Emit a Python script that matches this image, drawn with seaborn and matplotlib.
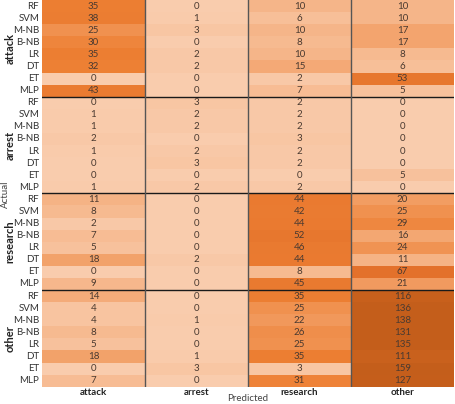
import numpy as np
import pandas as pd
import seaborn as sns
import matplotlib
matplotlib.use("Agg")
import matplotlib.pyplot as plt
from matplotlib.colors import LinearSegmentedColormap, Normalize

groups = ["attack", "arrest", "research", "other"]
models = ["RF", "SVM", "M-NB", "B-NB", "LR", "DT", "ET", "MLP"]
predicted = ["attack", "arrest", "research", "other"]

attack_vals = [[35, 0, 10, 10], [38, 1, 6, 10], [25, 3, 10, 17], [30, 0, 8, 17],
               [35, 2, 10, 8], [32, 2, 15, 6], [0, 0, 2, 53], [43, 0, 7, 5]]
arrest_vals = [[0, 3, 2, 0], [1, 2, 2, 0], [1, 2, 2, 0], [2, 0, 3, 0],
               [1, 2, 2, 0], [0, 3, 2, 0], [0, 0, 0, 5], [1, 2, 2, 0]]
research_vals = [[11, 0, 44, 20], [8, 0, 42, 25], [2, 0, 44, 29], [7, 0, 52, 16],
                 [5, 0, 46, 24], [18, 2, 44, 11], [0, 0, 8, 67], [9, 0, 45, 21]]
other_vals = [[14, 0, 35, 116], [4, 0, 25, 136], [4, 1, 22, 138], [8, 0, 26, 131],
              [5, 0, 25, 135], [18, 1, 35, 111], [0, 3, 3, 159], [7, 0, 31, 127]]

blocks = [attack_vals, arrest_vals, research_vals, other_vals]
data = np.vstack([np.array(b) for b in blocks])
row_labels = models * len(groups)
df = pd.DataFrame(data, columns=predicted)

cmap = LinearSegmentedColormap.from_list(
    "xl", [(0.0, "#F9CCAD"), (0.25, "#ED7F33"), (0.54, "#E2702A"),
           (0.85, "#C9611D"), (1.0, "#C45E1B")])
norm = Normalize(vmin=0, vmax=130, clip=True)

plt.rcParams["font.family"] = ["Lato", "DejaVu Sans"]
fig = plt.figure(figsize=(4.55, 4.04), dpi=100)
ax = fig.add_axes([42 / 455, (404 - 386.7) / 404, 412 / 455, 386.7 / 404])

sns.heatmap(df, ax=ax, cmap=cmap, norm=norm, cbar=False, annot=True, fmt="d",
            annot_kws={"fontsize": 7, "color": "#4a3a30"},
            xticklabels=predicted, yticklabels=row_labels)

ax.tick_params(axis="both", length=0, pad=2)
ax.set_yticklabels(row_labels, fontsize=7, color="#333333", rotation=0)
ax.set_xticklabels(predicted, fontsize=7, color="#222222", fontweight="bold", rotation=0)
ax.tick_params(axis="x", pad=1)
ax.set_xlabel("Predicted", fontsize=7, color="#444444")
ax.xaxis.label.set_va("bottom")
ax.xaxis.set_label_coords(0.5, -0.0415)
ax.set_ylabel("")

n = len(models)
for i in range(1, len(groups)):
    ax.axhline(i * n, color="#1a1a1a", lw=1.0)
for j in range(1, len(predicted)):
    ax.axvline(j, color="#555555", lw=1.0)

for gi, g in enumerate(groups):
    ax.text(-0.077, gi * n + n / 2, g, rotation=90, ha="center", va="center",
            fontsize=8, fontweight="bold", color="#222222",
            transform=ax.get_yaxis_transform())

fig.text(0.012, 0.52, "Actual", rotation=90, ha="center", va="center",
         fontsize=7, color="#444444")

fig.savefig("out.png", dpi=100)
